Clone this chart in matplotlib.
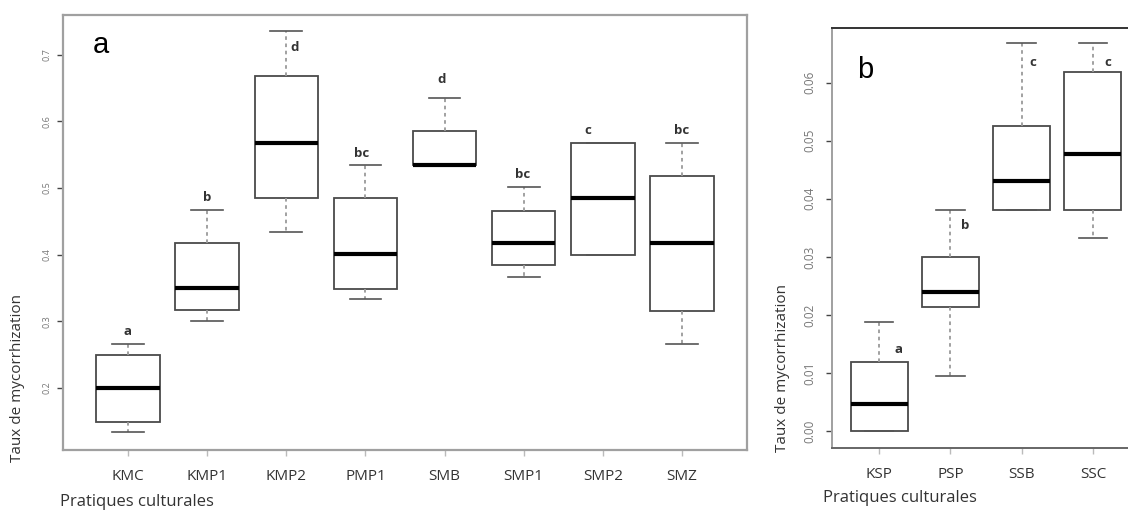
import matplotlib
matplotlib.use("Agg")
import matplotlib.pyplot as plt

# panneau a : pratiques culturales (8 groupes)
cats_a = ["KMC", "KMP1", "KMP2", "PMP1", "SMB", "SMP1", "SMP2", "SMZ"]
whislo_a = [0.134, 0.300, 0.434, 0.334, 0.534, 0.367, 0.400, 0.266]
q1_a = [0.149, 0.317, 0.485, 0.349, 0.534, 0.384, 0.400, 0.316]
med_a = [0.200, 0.350, 0.568, 0.401, 0.534, 0.417, 0.485, 0.417]
q3_a = [0.250, 0.418, 0.668, 0.485, 0.585, 0.466, 0.567, 0.518]
whishi_a = [0.266, 0.467, 0.735, 0.535, 0.635, 0.501, 0.567, 0.567]
letters_a = ["a", "b", "d", "bc", "d", "bc", "c", "bc"]
yticks_a = [0.2, 0.3, 0.4, 0.5, 0.6, 0.7]

# panneau b : 4 groupes
cats_b = ["KSP", "PSP", "SSB", "SSC"]
whislo_b = [0.0, 0.0095, 0.0381, 0.0333]
q1_b = [0.0, 0.0214, 0.0381, 0.0381]
med_b = [0.0047, 0.0239, 0.0430, 0.0477]
q3_b = [0.0119, 0.0300, 0.0525, 0.0619]
whishi_b = [0.0188, 0.0381, 0.0668, 0.0668]
letters_b = ["a", "b", "c", "c"]
yticks_b = [0.00, 0.01, 0.02, 0.03, 0.04, 0.05, 0.06]

# decalage des lettres (en points) par rapport au haut de la moustache
offs_a = [(0, 9), (0, 9), (6, -12), (-3, 8), (-2, 13), (-1, 9), (-11, 9), (0, 9)]
offs_b = [(14, -20), (11, -11), (8, -14), (11, -14)]

lab_font = ["Open Sans", "DejaVu Sans"]


def stats(cats, lo, q1, med, q3, hi):
    out = []
    for i in range(len(cats)):
        out.append({"label": cats[i], "whislo": lo[i], "q1": q1[i], "med": med[i],
                    "q3": q3[i], "whishi": hi[i], "fliers": []})
    return out


def draw_panel(ax, st, letters, offs, yt, ytfmt, ytsize, ytpad):
    ax.bxp(st, widths=0.8, capwidths=0.4, patch_artist=True, showfliers=False,
           boxprops=dict(facecolor="white", edgecolor="#4a4a4a", linewidth=1.3),
           medianprops=dict(color="black", linewidth=3),
           whiskerprops=dict(color="#9a9a9a", linewidth=1.3, linestyle=(0, (2, 2))),
           capprops=dict(color="#555555", linewidth=1.2))
    for i, s in enumerate(st):
        ax.annotate(letters[i], (i + 1, s["whishi"]), xytext=offs[i], textcoords="offset points",
                    ha="center", va="center", fontsize=9.5, fontweight="bold",
                    color="#333333", family=lab_font)
    ax.set_yticks(yt)
    ax.set_yticklabels([ytfmt.format(v) for v in yt], rotation=90, va="center",
                       fontsize=ytsize, color="#777777", family=lab_font)
    ax.tick_params(axis="y", length=4, width=1, color="#444444", pad=ytpad)
    ax.tick_params(axis="x", length=4, width=1, color="#bbbbbb", pad=10,
                   labelsize=11, labelcolor="#333333")
    for t in ax.get_xticklabels():
        t.set_family(lab_font)


fig = plt.figure(figsize=(11.28, 5.12), dpi=100)

ax1 = fig.add_axes([63 / 1128, 62 / 512, 684 / 1128, 435 / 512])
draw_panel(ax1, stats(cats_a, whislo_a, q1_a, med_a, q3_a, whishi_a),
           letters_a, offs_a, yticks_a, "{:.1f}", 6.5, 4)
ax1.set_xlim(0.18, 8.82)
ax1.set_ylim(0.107, 0.7595)
for sp in ax1.spines.values():
    sp.set_color("#a0a0a0")
    sp.set_linewidth(1.6)
ax1.text(0.055, 0.93, "a", transform=ax1.transAxes, fontsize=21,
         family="Liberation Sans", ha="center", va="center")

ax2 = fig.add_axes([832 / 1128, 64 / 512, 308 / 1128, 420 / 512])
draw_panel(ax2, stats(cats_b, whislo_b, q1_b, med_b, q3_b, whishi_b),
           letters_b, offs_b, yticks_b, "{:.2f}", 8.5, 7)
ax2.set_xlim(0.34, 4.66)
ax2.set_ylim(-0.0029, 0.0694)
ax2.spines["top"].set_color("#333333")
ax2.spines["left"].set_color("#a0a0a0")
ax2.spines["bottom"].set_color("#666666")
for sp in ax2.spines.values():
    sp.set_linewidth(1.4)
ax2.text(0.107, 0.9, "b", transform=ax2.transAxes, fontsize=21,
         family="Liberation Sans", ha="center", va="center")

# titres des axes
fig.text(18 / 1128, 1 - 378 / 512, "Taux de mycorrhization", rotation=90,
         ha="center", va="center", fontsize=11, color="#333333", family=lab_font)
fig.text(783 / 1128, 1 - 368 / 512, "Taux de mycorrhization", rotation=90,
         ha="center", va="center", fontsize=11, color="#333333", family=lab_font)
fig.text(137 / 1128, 1 - 502 / 512, "Pratiques culturales",
         ha="center", va="center", fontsize=12, color="#333333", family=lab_font)
fig.text(900 / 1128, 1 - 498 / 512, "Pratiques culturales",
         ha="center", va="center", fontsize=12, color="#333333", family=lab_font)

fig.savefig("out.png", dpi=100)
